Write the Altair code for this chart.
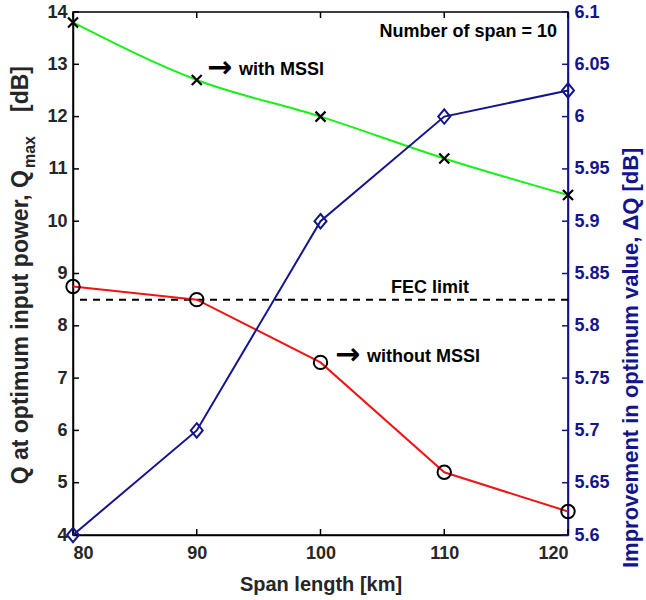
import altair as alt
import pandas as pd

# Span length sweep (km)
span_km = [80, 90, 100, 110, 120]
# Q at optimum launch power (dB)
q_with_mssi = [13.8, 12.7, 12.0, 11.2, 10.5]
q_without_mssi = [8.75, 8.5, 7.3, 5.2, 4.45]
# Improvement in optimum Q (dB), right axis
delta_q = [5.6, 5.7, 5.9, 6.0, 6.025]
fec_limit = [8.5]

x_ticks = [80, 90, 100, 110, 120]
left_ticks = [4, 5, 6, 7, 8, 9, 10, 11, 12, 13, 14]
right_ticks = [5.6, 5.65, 5.7, 5.75, 5.8, 5.85, 5.9, 5.95, 6.0, 6.05, 6.1]

FONT = "Liberation Sans"
NAVY = "#14148c"
GREEN = "#19f019"
RED = "#f01414"
W, H = 495, 523

df = pd.DataFrame({
    "span": span_km,
    "q_with": q_with_mssi,
    "q_without": q_without_mssi,
    "dq": delta_q,
})
fec_df = pd.DataFrame({"span": [80], "fec": fec_limit})
xt_df = pd.DataFrame({"span": x_ticks})
lt_df = pd.DataFrame({"t": left_ticks})
rt_df = pd.DataFrame({"t": right_ticks})

x_scale = alt.Scale(domain=[80, 120], nice=False, zero=False)
yl_scale = alt.Scale(domain=[4, 14], nice=False, zero=False)
yr_scale = alt.Scale(domain=[5.6, 6.1], nice=False, zero=False)

x_axis = alt.Axis(
    values=x_ticks, title="Span length [km]", ticks=False, grid=False,
    domainColor="#000000", domainWidth=1.5, labelFont=FONT, labelFontSize=18,
    labelFontWeight="bold", labelColor="#262626", labelPadding=9,
    titleFont=FONT, titleFontSize=20, titleFontWeight="bold",
    titleColor="#262626", titlePadding=12,
)
yl_axis = alt.Axis(
    values=left_ticks, title=None, ticks=False, grid=False,
    domainColor="#000000", domainWidth=1.5, labelFont=FONT, labelFontSize=18,
    labelFontWeight="bold", labelColor="#262626", labelPadding=6,
)
yr_axis = alt.Axis(
    values=right_ticks, format="~g", orient="right", ticks=False, grid=False,
    title=None, domainColor=NAVY, domainWidth=1.5, labelFont=FONT,
    labelFontSize=18, labelFontWeight="bold", labelColor=NAVY, labelPadding=6,
)

X = alt.X("span:Q", scale=x_scale, axis=x_axis)
YL = dict(scale=yl_scale, axis=yl_axis)
YR = dict(scale=yr_scale, axis=yr_axis)
base = alt.Chart(df)

# ---- left-axis group ----
green_line = base.mark_line(color=GREEN, strokeWidth=2, interpolate="monotone").encode(
    x=X, y=alt.Y("q_with:Q", **YL))
green_pts = base.mark_point(
    shape="M-1,-1L1,1M-1,1L1,-1", size=100, filled=False, color="#000000",
    strokeWidth=2.2, opacity=1, clip=False,
).encode(x=X, y=alt.Y("q_with:Q", **YL))
red_line = base.mark_line(color=RED, strokeWidth=2, interpolate="linear").encode(
    x=X, y=alt.Y("q_without:Q", **YL))
red_pts = base.mark_point(
    shape="circle", size=180, filled=False, color="#000000", strokeWidth=2,
    opacity=1, clip=False,
).encode(x=X, y=alt.Y("q_without:Q", **YL))
fec_rule = alt.Chart(fec_df).mark_rule(
    color="#000000", strokeWidth=2, strokeDash=[7, 6]
).encode(y=alt.Y("fec:Q", **YL))

left_ticks_m = alt.Chart(lt_df).mark_rule(color="#000000", strokeWidth=1.5).encode(
    y=alt.Y("t:Q", **YL), x=alt.value(0), x2=alt.value(6))
bottom_ticks_m = alt.Chart(xt_df).mark_rule(color="#000000", strokeWidth=1.5).encode(
    x=X, y=alt.value(H), y2=alt.value(H - 6))
top_ticks_m = alt.Chart(xt_df).mark_rule(color="#000000", strokeWidth=1.5).encode(
    x=X, y=alt.value(0), y2=alt.value(6))

# Arrow callouts placed in data coordinates
ann_df = pd.DataFrame({
    "span": [90.83, 101.17],
    "y": [12.89, 7.40],
    "label": ["with MSSI", "without MSSI"],
})
ann_arrows = alt.Chart(ann_df).mark_text(
    text="\u2192", align="left", baseline="middle", font="DejaVu Sans",
    fontWeight="bold", fontSize=30, color="#000000", dy=-2,
).encode(x=X, y=alt.Y("y:Q", **YL))
ann_text = alt.Chart(ann_df).mark_text(
    align="left", baseline="middle", font=FONT, fontWeight="bold",
    fontSize=18, color="#000000", dx=32,
).encode(x=X, y=alt.Y("y:Q", **YL), text="label:N")

note_df = pd.DataFrame({
    "span": [108.85, 119.11],
    "y": [8.72, 13.62],
    "label": ["FEC limit", "Number of span = 10"],
    "align": ["center", "right"],
})
note_layers = []
for a in ["center", "right"]:
    note_layers.append(
        alt.Chart(note_df[note_df["align"] == a]).mark_text(
            align=a, baseline="middle", font=FONT, fontWeight="bold",
            fontSize=18, color="#000000",
        ).encode(x=X, y=alt.Y("y:Q", **YL), text="label:N")
    )

# Left axis title with a subscripted "max"
title_kw = dict(font=FONT, fontWeight="bold", color="#262626", angle=270,
                baseline="alphabetic")
t_main = alt.Chart(pd.DataFrame({"s": ["Q at optimum input power, Q"]})).mark_text(
    align="right", fontSize=23, **title_kw).encode(
    text="s:N", x=alt.value(-45), y=alt.value(158))
t_sub = alt.Chart(pd.DataFrame({"s": ["max"]})).mark_text(
    align="left", fontSize=16, **title_kw).encode(
    text="s:N", x=alt.value(-38), y=alt.value(156))
t_unit = alt.Chart(pd.DataFrame({"s": ["[dB]"]})).mark_text(
    align="left", fontSize=23, **title_kw).encode(
    text="s:N", x=alt.value(-45), y=alt.value(100))

left_group = alt.layer(
    green_line, fec_rule, red_line, red_pts, green_pts,
    left_ticks_m, bottom_ticks_m, top_ticks_m, t_main, t_sub, t_unit,
    ann_arrows, ann_text, *note_layers,
)

# ---- right-axis group ----
blue_line = base.mark_line(color=NAVY, strokeWidth=2, interpolate="linear").encode(
    x=X, y=alt.Y("dq:Q", **YR))
blue_pts = base.mark_point(
    shape="M0,-1.2L1,0L0,1.2L-1,0Z", size=144, filled=False, color=NAVY,
    strokeWidth=2, opacity=1, clip=False,
).encode(x=X, y=alt.Y("dq:Q", **YR))
right_ticks_m = alt.Chart(rt_df).mark_rule(color=NAVY, strokeWidth=1.5).encode(
    y=alt.Y("t:Q", **YR), x=alt.value(W), x2=alt.value(W - 6))
right_title = alt.Chart(
    pd.DataFrame({"s": ["Improvement in optimum value, \u0394Q [dB]"]})
).mark_text(
    align="left", baseline="alphabetic", angle=270, font=FONT, fontWeight="bold",
    fontSize=22, color=NAVY,
).encode(text="s:N", x=alt.value(W + 70), y=alt.value(556))

right_group = alt.layer(blue_line, blue_pts, right_ticks_m, right_title)

chart = alt.layer(left_group, right_group).resolve_scale(y="independent").properties(
    width=W, height=H,
    padding={"left": 73, "top": 12, "right": 78, "bottom": 65},
    autosize=alt.AutoSizeParams(type="none"),
    background="#ffffff",
).configure_view(stroke="#000000", strokeWidth=1.5)

chart.save("out.html", embed_options={"renderer": "svg", "actions": False})
